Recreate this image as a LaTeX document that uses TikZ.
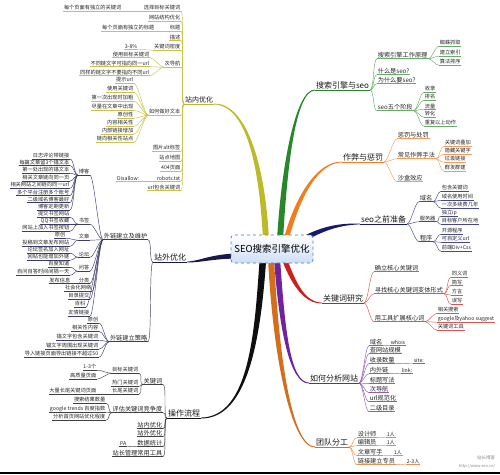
\documentclass[tikz,border=0pt]{standalone}
\usepackage{fontspec}
\setmainfont{Noto Sans CJK SC}
\usetikzlibrary{calc}
\definecolor{colZn}{RGB}{190,185,40}
\definecolor{colSe}{RGB}{40,135,40}
\definecolor{colZb}{RGB}{240,125,30}
\definecolor{colSq}{RGB}{25,25,110}
\definecolor{colGj}{RGB}{205,30,30}
\definecolor{colFx}{RGB}{110,35,160}
\definecolor{colTd}{RGB}{210,110,30}
\definecolor{colCz}{RGB}{15,15,15}
\definecolor{colZw}{RGB}{25,25,80}
\definecolor{cBord}{RGB}{80,120,190}
\definecolor{cFillB}{RGB}{205,222,245}
\newcommand\mmL[6]{%
  \node[#1,anchor=south east] (#2) at (#4,#5) {#6};
  \draw[cn] (#2.south west) -- (#2.south east);
  \draw[cn] (#3.south west) .. controls +(-4,0) and +(4,0) .. (#2.south east);}
\newcommand\mmR[6]{%
  \node[#1,anchor=south west] (#2) at (#4,#5) {#6};
  \draw[cn] (#2.south west) -- (#2.south east);
  \draw[cn] (#3.south east) .. controls +(4,0) and +(-4,0) .. (#2.south west);}
\newcommand\mmB[7]{%
  \fill[#1] ($(#2)+(#6)$) .. controls ($(#3)+(#6)$) and ($(#4)+(#7)$) .. ($(#5)+0.35*(#7)$)
    -- ($(#5)-0.35*(#7)$) .. controls ($(#4)-(#7)$) and ($(#3)-(#6)$) .. ($(#2)-(#6)$) -- cycle;}
\begin{document}
\begin{tikzpicture}[x=1pt,y=-1pt,
  lf/.style={font=\fontsize{5.2}{5.2}\selectfont,inner sep=0.6pt,text=black!85},
  md/.style={font=\fontsize{6.2}{6.2}\selectfont,inner sep=0.6pt,text=black!85},
  mn/.style={font=\fontsize{8}{8}\selectfont,inner sep=0.8pt,text=black!90},
  cn/.style={draw=bc,line width=0.45pt},
  mu/.style={line width=0.8pt}]
\useasboundingbox (0,0) rectangle (500,474);
\fill[white] (0,0) rectangle (500,474);

% main labels
\node[mn,font=\fontsize{7}{7}\selectfont,anchor=south west] (zn) at (184,104) {站内优化};
\node[mn,anchor=south east] (zw) at (187,262) {站外优化};
\node[mn,anchor=south west] (cz) at (167,418) {操作流程};
\node[mn,anchor=south west] (se) at (315,90) {搜索引擎与seo};
\node[mn,anchor=south west] (zb) at (342,162) {作弊与惩罚};
\node[mn,anchor=south west] (sq) at (360,224) {seo之前准备};
\node[mn,anchor=south west] (gj) at (322,303) {关键词研究};
\node[mn,anchor=south west] (fx) at (309,383) {如何分析网站};
\node[mn,anchor=south west] (td) at (315,447) {团队分工};

% tapered main branches
\mmB{colZn}{266,240}{262,160}{245,104}{zn.south east}{3,0}{0,-1.2}
\mmB{colSe}{280,240}{284,170}{295,90}{se.south west}{3,0}{0,1.2}
\mmB{colZb}{286,240}{298,195}{318,162}{zb.south west}{2.4,0.65}{0,1}
\mmB{colSq}{298,242}{322,228}{340,224}{sq.south west}{1.26,2.16}{0,1}
\mmB{colGj}{284,258}{294,285}{305,303}{gj.south west}{-2.34,0.87}{0,1}
\mmB{colFx}{277,258}{282,330}{290,383}{fx.south west}{-3,0}{0,1.2}
\mmB{colTd}{271,258}{276,360}{292,447}{td.south west}{-3,0}{0,1.2}
\mmB{colCz}{263,258}{258,330}{250,418}{cz.south east}{-3.3,0}{0,-1.2}
\mmB{colZw}{240,256}{212,256}{200,262}{zw.south east}{0,-2.5}{0,-1}

\draw[colZn,mu] (zn.south west) -- (zn.south east);
\draw[colZw,mu] (zw.south west) -- (zw.south east);
\draw[colCz,mu] (cz.south west) -- (cz.south east);
\draw[colSe,mu] (se.south west) -- (se.south east);
\draw[colZb,mu] (zb.south west) -- (zb.south east);
\draw[colSq,mu] (sq.south west) -- (sq.south east);
\draw[colGj,mu] (gj.south west) -- (gj.south east);
\draw[colFx,mu] (fx.south west) -- (fx.south east);
\draw[colTd,mu] (td.south west) -- (td.south east);

% 站内优化
\colorlet{bc}{colZn!85!white}
\mmL{lf}{z1}{zn}{181}{11.2}{选择目标关键词}
\mmL{lf}{z1a}{z1}{122}{11.2}{每个页面有独立的关键词}
\mmL{lf}{z2}{zn}{181}{21.2}{网站结构优化}
\mmL{lf}{z3}{zn}{181}{31.2}{标题}
\mmL{lf}{z3a}{z3}{155}{31.2}{每个页面有独立的标题}
\mmL{lf}{z4}{zn}{181}{40.7}{描述}
\mmL{lf}{z5}{zn}{181}{50.2}{关键词密度}
\mmL{lf}{z5a}{z5}{138}{49.2}{3-8\%}
\mmL{lf}{z6}{zn}{181}{67.2}{次导航}
\mmL{lf}{z6a}{z6}{150}{57.7}{使用目标关键词}
\mmL{lf}{z6b}{z6}{150}{66.7}{不同链文字可指向同一url}
\mmL{lf}{z6c}{z6}{150}{75.7}{同样的链文字不要指向不同url}
\mmL{lf}{z7}{zn}{181}{115.2}{如何做好文本}
\mmL{lf}{z7a}{z7}{134}{83.2}{提示url}
\mmL{lf}{z7b}{z7}{134}{92.2}{使用关键词}
\mmL{lf}{z7c}{z7}{134}{101.2}{第一次出现时加粗}
\mmL{lf}{z7d}{z7}{134}{110.2}{尽量在文章中出现}
\mmL{lf}{z7e}{z7}{134}{118.2}{原创性}
\mmL{lf}{z7f}{z7}{134}{126.2}{内容相关性}
\mmL{lf}{z7g}{z7}{134}{134.2}{内部链接增加}
\mmL{lf}{z7h}{z7}{134}{142.2}{链向相关性站点}
\mmL{lf}{z8}{zn}{181}{151.2}{图片alt标签}
\mmL{lf}{z9}{zn}{181}{161.2}{站点地图}
\mmL{lf}{z10}{zn}{181}{171.2}{404页面}
\mmL{lf}{z11}{zn}{181}{181.2}{robots.txt}
\mmL{lf}{z11a}{z11}{140}{181.2}{Disallow:}
\mmL{lf}{z12}{zn}{181}{190.7}{url包含关键词}

% 站外优化
\colorlet{bc}{colZw!85!white}
\mmL{md}{w1}{zw}{148}{239.7}{外链建立及维护}
\mmL{md}{w2}{zw}{148}{341.7}{外链建立策略}
\mmL{lf}{wa}{w1}{90}{175.2}{博客}
\mmL{lf}{wa1}{wa}{70}{159}{日志评论带链接}
\mmL{lf}{wa2}{wa}{70}{165.5}{每篇文章留3个锚文本}
\mmL{lf}{wa3}{wa}{70}{173.2}{第一处出现的锚文本}
\mmL{lf}{wa4}{wa}{70}{181}{相关文章链向同一页}
\mmL{lf}{wa5}{wa}{70}{188.2}{相关网站之间链向同一url}
\mmL{lf}{wa6}{wa}{70}{195.5}{多个平台注册多个账号}
\mmL{lf}{wa7}{wa}{70}{202.5}{二级域名博客最好}
\mmL{lf}{wa8}{wa}{70}{210}{博客定期更新}
\mmL{lf}{wb}{w1}{90}{224.2}{书签}
\mmL{lf}{wb1}{wb}{70}{217.2}{提交书签网站}
\mmL{lf}{wb2}{wb}{70}{224.2}{QQ书签收藏}
\mmL{lf}{wb3}{wb}{70}{231.2}{网站上加入书签按钮}
\mmL{lf}{wc}{w1}{90}{240.2}{文章}
\mmL{lf}{wc1}{wc}{66}{238.2}{原创}
\mmL{lf}{wc2}{wc}{70}{246.2}{投稿到文章发布网站}
\mmL{lf}{wd}{w1}{90}{257.2}{论坛}
\mmL{lf}{wd1}{wd}{70}{253.2}{论坛签名加入网址}
\mmL{lf}{wd2}{wd}{70}{260.2}{回帖也能增加外链}
\mmL{lf}{we}{w1}{90}{271.2}{问答}
\mmL{lf}{we1}{we}{70}{267.2}{百度知道}
\mmL{lf}{we2}{we}{70}{275.2}{自问自答时间间隔一天}
\mmL{lf}{wf}{w1}{90}{283.7}{分类}
\mmL{lf}{wf1}{wf}{71}{283.7}{发布信息}
\mmL{lf}{wg}{w1}{92}{291.2}{社会化网络}
\mmL{lf}{wh}{w1}{90}{299.2}{目录提交}
\mmL{lf}{wi}{w1}{86}{307.2}{百科}
\mmL{lf}{wj}{w1}{90}{316.2}{友情链接}
\mmL{lf}{w2a}{w2}{99}{323.2}{原创}
\mmL{lf}{w2b}{w2}{99}{331.2}{相关性内容}
\mmL{lf}{w2c}{w2}{99}{340.2}{锚文字包含关键词}
\mmL{lf}{w2d}{w2}{99}{349.2}{锚文字周围出现关键词}
\mmL{lf}{w2e}{w2}{99}{357.2}{导入链接页面导出链接不超过50}

% 操作流程
\colorlet{bc}{black!75}
\mmL{md}{c1}{cz}{163}{384.5}{关键词}
\mmL{lf}{c1a}{c1}{139}{373.2}{目标关键词}
\mmL{lf}{c1a1}{c1a}{97}{370.2}{1-3个}
\mmL{lf}{c1a2}{c1a}{97}{379.2}{高质量页面}
\mmL{lf}{c1b}{c1}{139}{386.2}{热门关键词}
\mmL{lf}{c1c}{c1}{139}{394.2}{长尾关键词}
\mmL{lf}{c1c1}{c1c}{97}{394.2}{大量长尾关键词页面}
\mmL{md}{c2}{cz}{163}{412.7}{评估关键词竞争度}
\mmL{lf}{c2a}{c2}{106}{403.2}{搜索结果数量}
\mmL{lf}{c2b}{c2}{106}{412.2}{google trends 百度指数}
\mmL{lf}{c2c}{c2}{106}{420.2}{分析首页网站优化程度}
\mmL{md}{c3}{cz}{163}{428.7}{站内优化}
\mmL{md}{c4}{cz}{163}{436.7}{站外优化}
\mmL{md}{c5}{cz}{163}{446.7}{数据统计}
\mmL{lf}{c5a}{c5}{127}{446.2}{PA}
\mmL{md}{c6}{cz}{163}{456.7}{站长管理常用工具}

% 搜索引擎与seo
\colorlet{bc}{colSe!70!white}
\mmR{md}{s1}{se}{377}{58.7}{搜索引擎工作原理}
\mmR{lf}{s1a}{s1}{439}{46.2}{蜘蛛抓取}
\mmR{lf}{s1b}{s1}{439}{56.2}{建立索引}
\mmR{lf}{s1c}{s1}{439}{65.2}{算法排序}
\mmR{md}{s2}{se}{377}{74.7}{什么是seo?}
\mmR{md}{s3}{se}{377}{83.7}{为什么要seo?}
\mmR{md}{s4}{se}{377}{110.7}{seo五个阶段}
\mmR{lf}{s4a}{s4}{424}{92.2}{收录}
\mmR{lf}{s4b}{s4}{424}{100.2}{排名}
\mmR{lf}{s4c}{s4}{424}{109.2}{流量}
\mmR{lf}{s4d}{s4}{424}{117.2}{转化}
\mmR{lf}{s4e}{s4}{424}{126.2}{重复以上动作}

% 作弊与惩罚
\colorlet{bc}{colZb!75!white}
\mmR{md}{b1}{zb}{397}{138.7}{惩罚与处罚}
\mmR{md}{b2}{zb}{397}{158.7}{常见作弊手法}
\mmR{lf}{b2a}{b2}{444}{146.2}{关键词叠加}
\mmR{lf}{b2b}{b2}{444}{154.2}{隐藏关键字}
\mmR{lf}{b2c}{b2}{444}{162.2}{垃圾链接}
\mmR{lf}{b2d}{b2}{444}{171.2}{群发群建}
\mmR{md}{b3}{zb}{397}{181.7}{沙盒效应}

% seo之前准备
\colorlet{bc}{colSq!80!white}
\mmR{md}{q1}{sq}{419}{201.7}{域名}
\mmR{lf}{q1a}{q1}{441}{191.2}{包含关键词}
\mmR{lf}{q1b}{q1}{441}{200.2}{域名使用时间}
\mmR{lf}{q1c}{q1}{441}{208.2}{一次多续费几年}
\mmR{lf}{q2}{sq}{419}{221.7}{服务器}
\mmR{lf}{q2a}{q2}{441}{216.2}{独立ip}
\mmR{lf}{q2b}{q2}{441}{224.2}{目标客户所在地}
\mmR{md}{q3}{sq}{419}{241.7}{程序}
\mmR{lf}{q3a}{q3}{441}{234.2}{开源程序}
\mmR{lf}{q3b}{q3}{441}{242.2}{可自定义url}
\mmR{lf}{q3c}{q3}{441}{251.2}{前端Div+Css}

% 关键词研究
\colorlet{bc}{colGj!75!white}
\mmR{md}{g1}{gj}{374}{271.7}{确立核心关键词}
\mmR{md}{g2}{gj}{374}{293.7}{寻找核心关键词变体形式}
\mmR{lf}{g2a}{g2}{451}{277.2}{同义词}
\mmR{lf}{g2b}{g2}{451}{285.2}{简写}
\mmR{lf}{g2c}{g2}{451}{295.2}{方言}
\mmR{lf}{g2d}{g2}{451}{304.2}{误写}
\mmR{md}{g3}{gj}{374}{321.7}{用工具扩展核心词}
\mmR{lf}{g3a}{g3}{437}{313.2}{相关搜索}
\mmR{lf}{g3b}{g3}{437}{322.2}{google及yahoo suggest}
\mmR{lf}{g3c}{g3}{437}{330.2}{关键词工具}

% 如何分析网站
\colorlet{bc}{colFx!75!white}
\mmR{md}{f1}{fx}{369}{345.7}{域名}
\mmR{lf}{f1a}{f1}{390}{345.2}{whois}
\mmR{md}{f2}{fx}{369}{353.7}{查网站规模}
\mmR{md}{f3}{fx}{369}{363.7}{收录数量}
\mmR{lf}{f3a}{f3}{413}{363.2}{site:}
\mmR{md}{f4}{fx}{369}{373.7}{内外链}
\mmR{lf}{f4a}{f4}{401}{373.2}{link:}
\mmR{md}{f5}{fx}{369}{383.7}{标题写法}
\mmR{md}{f6}{fx}{369}{392.7}{次导航}
\mmR{md}{f7}{fx}{369}{401.7}{url规范化}
\mmR{md}{f8}{fx}{369}{411.7}{二级目录}

% 团队分工
\colorlet{bc}{colTd!75!white}
\mmR{md}{t1}{td}{357}{437.7}{设计师}
\mmR{lf}{t1a}{t1}{386}{437.2}{1人}
\mmR{md}{t2}{td}{357}{445.7}{编辑员}
\mmR{lf}{t2a}{t2}{386}{445.2}{1人}
\mmR{md}{t3}{td}{357}{455.7}{文章写手}
\mmR{lf}{t3a}{t3}{393}{455.2}{1人}
\mmR{md}{t4}{td}{357}{464.7}{链接建立专员}
\mmR{lf}{t4a}{t4}{406}{464.2}{2-3人}

% watermark
\node[font=\fontsize{4.5}{4.5}\selectfont,text=black!45] (wm1) at (486,458) {站长博客};
\node[font=\fontsize{4}{4}\selectfont,text=black!45] (wm2) at (477,466) {http://www.seo.cn/};

% bottom rule
\draw[line width=2.2pt] (0,473) -- (500,473);

% centre
\node[draw=cBord,dashed,line width=0.7pt,rounded corners=3pt,top color=white,bottom color=cFillB,
  minimum width=80,minimum height=28,font=\fontsize{9.5}{9.5}\selectfont] (ctr) at (272,249) {SEO搜索引擎优化};
\end{tikzpicture}
\end{document}
